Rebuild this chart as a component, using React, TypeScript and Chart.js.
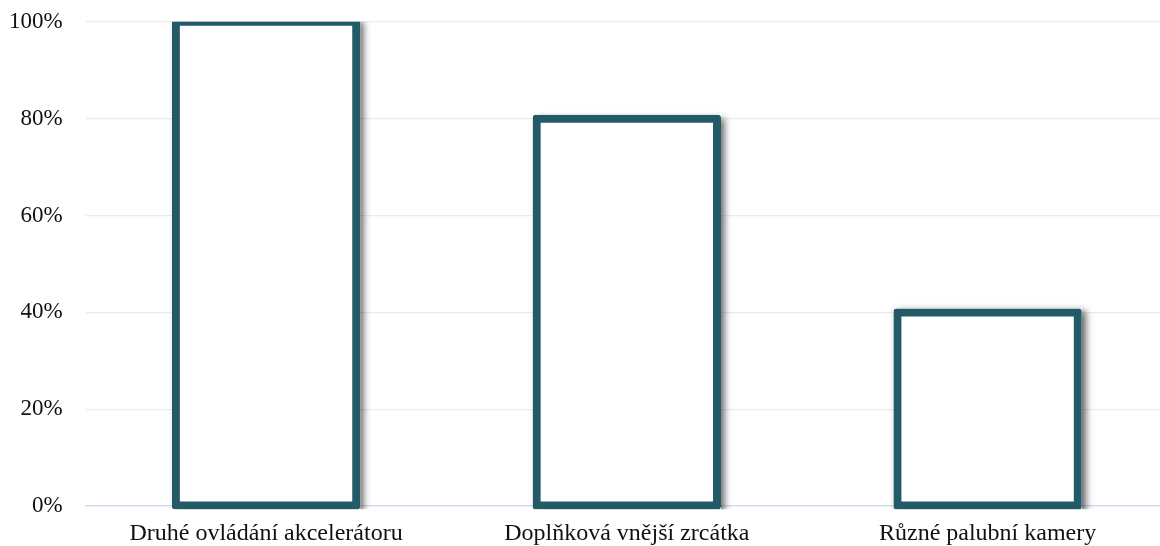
import React, { useEffect, useRef } from "react";
import { Chart, registerables } from "chart.js";

Chart.register(...registerables);

const categories: string[] = [
  "Druhé ovládání akcelerátoru",
  "Doplňková vnější zrcátka",
  "Různé palubní kamery",
];
const values: number[] = [100, 80, 40];
const yTicks: number[] = [0, 20, 40, 60, 80, 100];

const BAR_COLOR = "#235a68";
const INFLATE = 4;
const FONT = "'Liberation Serif', 'Times New Roman', serif";

const shadowPlugin = {
  id: "barShadow",
  beforeDatasetsDraw(chart: any) {
    const ctx = chart.ctx;
    const area = chart.chartArea;
    const meta = chart.getDatasetMeta(0);
    ctx.save();
    ctx.beginPath();
    ctx.rect(area.left - 20, area.top, area.right - area.left + 40, area.bottom - area.top + 3);
    ctx.clip();
    meta.data.forEach((el: any) => {
      const p = el.getProps(["x", "y", "base", "width"], true);
      const left = p.x - p.width / 2 - INFLATE;
      const top = p.y - INFLATE;
      const w = p.width + INFLATE * 2;
      const h = p.base - p.y + INFLATE * 2;
      ctx.shadowColor = "rgba(0,0,0,0.6)";
      ctx.shadowBlur = 7;
      ctx.shadowOffsetX = 4;
      ctx.shadowOffsetY = 3;
      ctx.fillStyle = "#ffffff";
      ctx.fillRect(left, top, w, h);
    });
    ctx.restore();
  },
};

export default function App() {
  const ref = useRef<HTMLCanvasElement>(null);
  useEffect(() => {
    document.documentElement.style.overflow = "hidden";
    document.body.style.margin = "0";
    document.body.style.overflow = "hidden";
    const chart = new Chart(ref.current as HTMLCanvasElement, {
      type: "bar",
      data: {
        labels: categories,
        datasets: [
          {
            data: values,
            backgroundColor: "#ffffff",
            borderColor: BAR_COLOR,
            borderWidth: 8,
            borderSkipped: false,
            borderRadius: 3,
            inflateAmount: INFLATE,
            categoryPercentage: 1,
            barPercentage: 0.5,
            clip: { left: false, right: false, top: 0, bottom: 3 } as any,
          },
        ],
      },
      options: {
        animation: false,
        responsive: false,
        maintainAspectRatio: false,
        layout: { padding: { top: -5, left: -14, right: 0, bottom: -15 } },
        plugins: { legend: { display: false }, tooltip: { enabled: false } },
        scales: {
          x: {
            grid: { display: false, drawTicks: false },
            border: { display: true, color: "#cfdff0", width: 1.5 },
            ticks: {
              color: "#111",
              padding: 13,
              font: { family: FONT, size: 24 },
            },
          },
          y: {
            min: 0,
            max: 100,
            afterBuildTicks: (axis: any) => {
              axis.ticks = yTicks.map((v) => ({ value: v }));
            },
            grid: {
              color: (c: any) => (c.tick && c.tick.value === 0 ? "rgba(0,0,0,0)" : "#ebebeb"),
              lineWidth: 1.2,
              drawTicks: false,
            },
            border: { display: false },
            ticks: {
              color: "#111",
              padding: 23,
              callback: (v: any) => v + "%",
              font: { family: FONT, size: 23 },
            },
          },
        },
      },
      plugins: [shadowPlugin],
    });
    return () => chart.destroy();
  }, []);
  return (
    <div style={{ width: 1168, height: 546, overflow: "hidden" }}>
      <canvas
        ref={ref}
        width={1168}
        height={561}
        style={{ display: "block", marginTop: -15 }}
      />
    </div>
  );
}
